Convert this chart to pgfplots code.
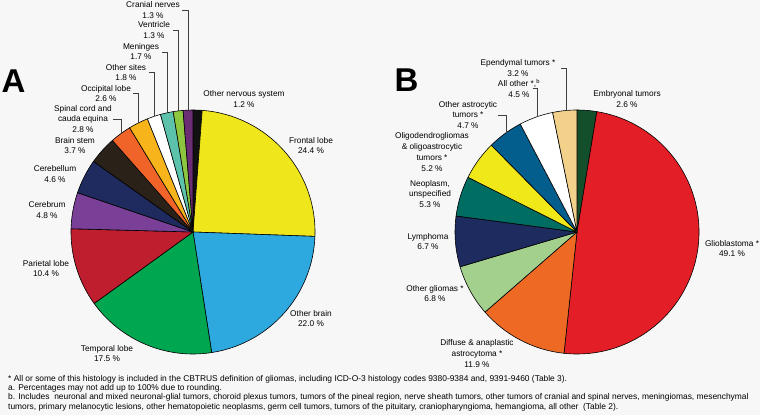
\documentclass[border=0pt]{standalone}
\usepackage{pgfplots}
\pgfplotsset{compat=1.18}
\usepackage{pgfplotstable}
\usepackage{fontspec}
\setmainfont{Liberation Sans}

\definecolor{bg}{RGB}{247,247,247}
% pie A colours
\definecolor{a01}{RGB}{17,17,17}
\definecolor{a02}{RGB}{240,230,28}
\definecolor{a03}{RGB}{46,169,223}
\definecolor{a04}{RGB}{0,166,80}
\definecolor{a05}{RGB}{190,30,45}
\definecolor{a06}{RGB}{122,63,151}
\definecolor{a07}{RGB}{31,43,94}
\definecolor{a08}{RGB}{42,34,24}
\definecolor{a09}{RGB}{240,100,42}
\definecolor{a10}{RGB}{248,180,27}
\definecolor{a11}{RGB}{255,255,255}
\definecolor{a12}{RGB}{92,194,171}
\definecolor{a13}{RGB}{141,198,63}
\definecolor{a14}{RGB}{107,45,116}
% pie B colours
\definecolor{b01}{RGB}{18,79,42}
\definecolor{b02}{RGB}{227,30,38}
\definecolor{b03}{RGB}{238,106,36}
\definecolor{b04}{RGB}{163,208,140}
\definecolor{b05}{RGB}{30,43,94}
\definecolor{b06}{RGB}{0,109,99}
\definecolor{b07}{RGB}{241,232,26}
\definecolor{b08}{RGB}{3,94,142}
\definecolor{b09}{RGB}{255,255,255}
\definecolor{b10}{RGB}{242,209,138}

\pgfplotstableread[col sep=comma]{
name,value,color
Other nervous system,1.2,a01
Frontal lobe,24.4,a02
Other brain,22.0,a03
Temporal lobe,17.5,a04
Parietal lobe,10.4,a05
Cerebrum,4.8,a06
Cerebellum,4.6,a07
Brain stem,3.7,a08
Spinal cord and cauda equina,2.8,a09
Occipital lobe,2.6,a10
Other sites,1.8,a11
Meninges,1.7,a12
Ventricle,1.3,a13
Cranial nerves,1.3,a14
}\tableA

\pgfplotstableread[col sep=comma]{
name,value,color
Embryonal tumors,2.6,b01
Glioblastoma,49.1,b02
Diffuse and anaplastic astrocytoma,11.9,b03
Other gliomas,6.8,b04
Lymphoma,6.7,b05
Neoplasm unspecified,5.3,b06
Oligodendrogliomas,5.2,b07
Other astrocytic tumors,4.7,b08
All other,4.5,b09
Ependymal tumors,3.2,b10
}\tableB

\newcommand{\drawpie}[1]{%
  \pgfplotstablegetrowsof{#1}%
  \pgfmathtruncatemacro{\nrows}{\pgfplotsretval-1}%
  \def\total{0}%
  \pgfplotsforeachungrouped \i in {0,...,\nrows}{%
    \pgfplotstablegetelem{\i}{value}\of{#1}%
    \pgfmathsetmacro{\total}{\total+\pgfplotsretval}%
  }%
  \def\cum{0}%
  \pgfplotsforeachungrouped \i in {0,...,\nrows}{%
    \pgfplotstablegetelem{\i}{value}\of{#1}%
    \let\val\pgfplotsretval
    \pgfplotstablegetelem{\i}{color}\of{#1}%
    \let\col\pgfplotsretval
    \pgfmathsetmacro{\sa}{90-(\cum/\total)*360}%
    \pgfmathsetmacro{\cum}{\cum+\val}%
    \pgfmathsetmacro{\ea}{90-(\cum/\total)*360}%
    \edef\temp{\noexpand\draw[fill=\col,draw=black,line width=0.6bp,line join=round] (axis cs:0,0) -- (axis cs:{cos(\sa)},{sin(\sa)}) arc[start angle=\sa,end angle=\ea,radius=122bp] -- cycle;}%
    \temp
  }%
}

\newcommand{\lab}{\fontsize{8.3bp}{10.8bp}\selectfont}
\newcommand{\foot}{\fontsize{8.4bp}{9.2bp}\selectfont}

\begin{document}
\begin{tikzpicture}[x=1bp,y=1bp]
\fill[bg] (0,0) rectangle (760,415);

\begin{axis}[at={(193bp,183bp)}, anchor=center, hide axis, scale only axis,
  width=244bp, height=244bp, xmin=-1, xmax=1, ymin=-1, ymax=1, clip=false]
\drawpie{\tableA}
\end{axis}

\begin{axis}[at={(577bp,183bp)}, anchor=center, hide axis, scale only axis,
  width=244bp, height=244bp, xmin=-1, xmax=1, ymin=-1, ymax=1, clip=false]
\drawpie{\tableB}
\end{axis}

% panel letters
\node[font=\fontsize{33bp}{33bp}\selectfont\bfseries] at (13.5,334) {A};
\node[font=\fontsize{33bp}{33bp}\selectfont\bfseries] at (406.5,334.5) {B};

% labels A
\begin{scope}[every node/.style={font=\lab, align=center, inner sep=0pt}]
\node at (153,405) {Cranial nerves\\1.3 \%};
\node at (154,385) {Ventricle\\1.3 \%};
\node at (141,363.5) {Meninges\\1.7 \%};
\node at (126,342.5) {Other sites\\1.8 \%};
\node at (106,321.5) {Occipital lobe\\2.6 \%};
\node at (83,296) {Spinal cord and\\cauda equina\\2.8 \%};
\node at (75,269.5) {Brain stem\\3.7 \%};
\node at (55,241) {Cerebellum\\4.6 \%};
\node at (47,205) {Cerebrum\\4.8 \%};
\node at (46,146.5) {Parietal lobe\\10.4 \%};
\node at (107,61.5) {Temporal lobe\\17.5 \%};
\node at (311,96.5) {Other brain\\22.0 \%};
\node at (311,269.5) {Frontal lobe\\24.4 \%};
\node at (244,316) {Other nervous system\\1.2 \%};
% labels B
\node at (518,347) {Ependymal tumors *\\3.2 \%};
\node at (519,326.5) {All other *,\textsuperscript{b}\\4.5 \%};
\node at (468,300) {Other astrocytic\\tumors *\\4.7 \%};
\node at (432,263) {Oligodendrogliomas\\\& oligoastrocytic\\tumors *\\5.2 \%};
\node at (430,221) {Neoplasm,\\unspecified\\5.3 \%};
\node at (428,173.5) {Lymphoma\\6.7 \%};
\node at (435,121.5) {Other gliomas *\\6.8 \%};
\node at (477,61.5) {Diffuse \& anaplastic\\astrocytoma *\\11.9 \%};
\node at (732,166.5) {Glioblastoma *\\49.1 \%};
\node at (627,316) {Embryonal tumors\\2.6 \%};
\end{scope}

% leader lines
\begin{scope}[line width=0.6bp, draw=black!75]
\draw (182,405) -- (188,405) -- (188,304.9);
\draw (173,385) -- (178,385) -- (178,304.1);
\draw (162,363) -- (167,363) -- (167,302.2);
\draw (149,343) -- (154,343) -- (154,298.6);
\draw (133,322) -- (138,322) -- (138,291.9);
\draw (113,296) -- (121,296) -- (121,281.5);
\draw (561,347) -- (566,347) -- (566,304.5);
\draw (533,327) -- (537,327) -- (537,298.3);
\draw (498,300) -- (506,300) -- (506,282.2);
\end{scope}

% footnotes
\begin{scope}[every node/.style={font=\foot, anchor=base west, inner sep=0pt}]
\node at (8,33.5) {* All or some of this histology is included in the CBTRUS definition of gliomas, including ICD-O-3 histology codes 9380-9384 and, 9391-9460 (Table 3).};
\node at (8,24.3) {a. Percentages may not add up to 100\% due to rounding.};
\node at (8,15.1) {b. Includes\ \ neuronal and mixed neuronal-glial tumors, choroid plexus tumors, tumors of the pineal region, nerve sheath tumors, other tumors of cranial and spinal nerves, meningiomas, mesenchymal};
\node at (8,5.9) {tumors, primary melanocytic lesions, other hematopoietic neoplasms, germ cell tumors, tumors of the pituitary, craniopharyngioma, hemangioma, all other\ \ (Table 2).};
\end{scope}

\pgfresetboundingbox
\path (0,0) rectangle (760,415);
\end{tikzpicture}
\end{document}
